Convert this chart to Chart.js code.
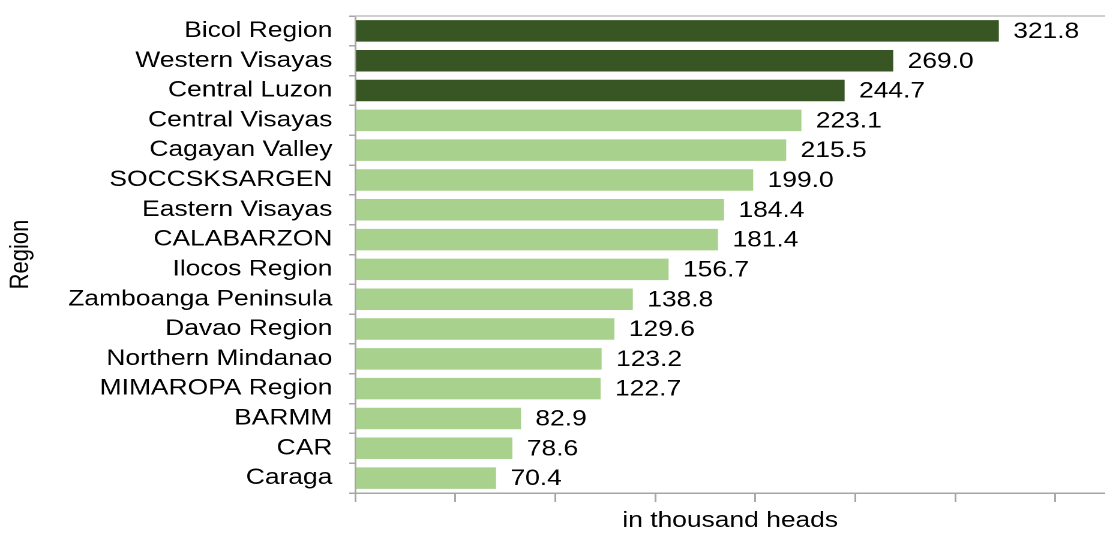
<!DOCTYPE html>
<html>
<head>
<meta charset="utf-8">
<script src="https://cdn.jsdelivr.net/npm/chart.js@4"></script>
<style>
  html, body { margin: 0; padding: 0; background: #fff; overflow: hidden; }
  #wrap { position: absolute; left: 0; top: 0; width: 921px; height: 534px; transform: scaleX(1.2); transform-origin: 0 0; }
</style>
</head>
<body>
<div id="wrap"><canvas id="c"></canvas></div>
<script>
const categories = ["Bicol Region","Western Visayas","Central Luzon","Central Visayas","Cagayan Valley","SOCCSKSARGEN","Eastern Visayas","CALABARZON","Ilocos Region","Zamboanga Peninsula","Davao Region","Northern Mindanao","MIMAROPA Region","BARMM","CAR","Caraga"];
const values = [321.8,269.0,244.7,223.1,215.5,199.0,184.4,181.4,156.7,138.8,129.6,123.2,122.7,82.9,78.6,70.4];
const topCount = 3;
const darkGreen = "#375623";
const lightGreen = "#A9D18E";
const axisColor = "#a6a6a6";
const FONT = "'Liberation Sans', Arial, sans-serif";

const colors = values.map((v, i) => i < topCount ? darkGreen : lightGreen);

const valueLabels = {
  id: 'valueLabels',
  afterDatasetsDraw(chart) {
    const ctx = chart.ctx;
    const meta = chart.getDatasetMeta(0);
    ctx.save();
    ctx.font = "22px " + FONT;
    ctx.fillStyle = "#000";
    ctx.textAlign = "left";
    ctx.textBaseline = "middle";
    meta.data.forEach((el, i) => {
      ctx.fillText(values[i].toFixed(1), el.x + 12, el.y + 1);
    });
    ctx.restore();
  }
};
const topBorder = {
  id: 'topBorder',
  afterDraw(chart) {
    const {ctx, chartArea} = chart;
    ctx.save();
    ctx.strokeStyle = "#bfbfbf";
    ctx.lineWidth = 1.5;
    ctx.beginPath();
    ctx.moveTo(chartArea.left, chartArea.top);
    ctx.lineTo(chartArea.right + 2, chartArea.top);
    ctx.stroke();
    ctx.restore();
  }
};

new Chart(document.getElementById('c'), {
  type: 'bar',
  data: {
    labels: categories,
    datasets: [{
      data: values,
      backgroundColor: colors,
      borderWidth: 0,
      barPercentage: 0.72,
      categoryPercentage: 1.0
    }]
  },
  options: {
    indexAxis: 'y',
    responsive: true,
    maintainAspectRatio: false,
    animation: false,
    devicePixelRatio: 2,
    layout: { padding: { top: 16, right: 0, left: 0, bottom: 0 } },
    plugins: { legend: { display: false }, tooltip: { enabled: false }, title: { display: false } },
    scales: {
      x: {
        min: 0, max: 375,
        ticks: { display: false, stepSize: 50 },
        afterBuildTicks(scale) { scale.ticks = scale.ticks.filter(t => t.value % 50 === 0); },
        afterFit(scale) { scale.height = 41; scale.paddingLeft = 0; scale.paddingRight = 0; },
        grid: { drawOnChartArea: false, drawTicks: true, tickLength: 9, color: axisColor, lineWidth: 1.5 },
        border: { display: true, color: axisColor, width: 1.5 },
        title: { display: true, text: "in thousand heads", color: "#000", font: { family: FONT, size: 22 }, padding: { top: 0, bottom: 0 } }
      },
      y: {
        ticks: { color: "#000", font: { family: FONT, size: 22 }, padding: 14, autoSkip: false },
        afterFit(scale) { scale.width = 296; scale.paddingTop = 0; scale.paddingBottom = 0; },
        grid: { offset: true, drawOnChartArea: false, drawTicks: true, tickLength: 5, color: axisColor, lineWidth: 1.5 },
        border: { display: true, color: axisColor, width: 1.5 },
        title: { display: true, text: "Region", color: "#000", font: { family: FONT, size: 22 }, padding: { top: 4, bottom: 4 } }
      }
    }
  },
  plugins: [valueLabels, topBorder]
});
</script>
</body>
</html>
